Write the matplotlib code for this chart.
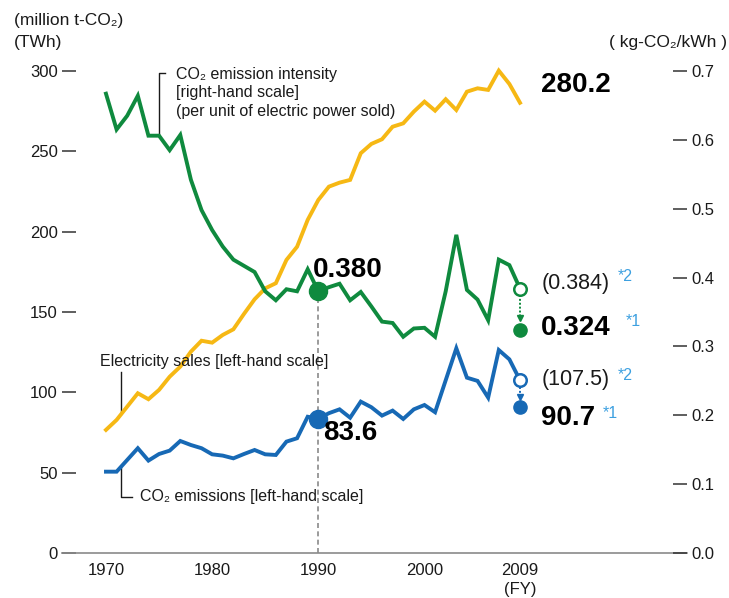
import numpy as np
import matplotlib.pyplot as plt
from matplotlib.ticker import FormatStrFormatter

plt.rcParams['font.family'] = ['Liberation Sans', 'DejaVu Sans']

# fiscal years
years = np.arange(1970, 2010)

# electricity sales (TWh, left scale)
sales = [76.6, 82.8, 91.1, 99.4, 95.7, 101.5, 109.7, 116.0, 125.3, 132.1,
         130.9, 135.7, 139.2, 148.8, 157.9, 164.7, 167.9, 182.4, 190.6, 207.3,
         219.7, 228.0, 230.5, 232.2, 248.8, 254.6, 257.5, 265.3, 267.4, 274.7,
         280.9, 275.3, 282.4, 275.7, 287.1, 289.2, 288.2, 300.2, 291.9, 280.2]

# CO2 emissions (million t-CO2, left scale)
co2 = [50.6, 50.6, 57.9, 65.2, 57.5, 61.6, 63.7, 69.7, 67.2, 65.2,
       61.4, 60.6, 58.9, 61.6, 64.1, 61.4, 61.0, 69.3, 71.4, 84.8,
       83.6, 87.0, 89.4, 84.2, 94.2, 90.7, 85.5, 88.6, 83.4, 89.4,
       92.1, 87.6, 107.5, 127.4, 109.1, 107.1, 96.7, 126.3, 120.5, 107.5]

# CO2 emission intensity (kg-CO2/kWh, right scale)
intensity = [0.667, 0.615, 0.635, 0.664, 0.606, 0.606, 0.585, 0.607, 0.542, 0.498,
             0.469, 0.445, 0.426, 0.417, 0.408, 0.380, 0.367, 0.383, 0.380, 0.412,
             0.380, 0.386, 0.391, 0.367, 0.379, 0.358, 0.336, 0.334, 0.314, 0.326,
             0.327, 0.314, 0.380, 0.462, 0.382, 0.368, 0.338, 0.426, 0.418, 0.384]

# 2009 values after reflecting credits (*1)
co2_2009_adj = 90.7
intensity_2009_adj = 0.324

xtick_years = [1970, 1980, 1990, 2000, 2009]
xtick_labels = ['1970', '1980', '1990', '2000', '2009\n(FY)']

GREEN = '#0f8a3e'
YELLOW = '#f6b814'
BLUE = '#1769b5'
STAR = '#3da0e0'
TXT = '#1a1a1a'

LEFT_MAX = 310
RIGHT_MAX = LEFT_MAX * 0.7 / 300
to_left = 300 / 0.7   # right-scale value -> left-scale value

fig = plt.figure(figsize=(7.29, 5.98), dpi=100)
ax = fig.add_axes([0.085, 0.0753, 0.8574, 0.8329])
ax2 = ax.twinx()

ax.set_xlim(1965.855, 2024.73)
ax.set_ylim(0, LEFT_MAX)
ax2.set_ylim(0, RIGHT_MAX)

for a in (ax, ax2):
    for s in ['top', 'left', 'right', 'bottom']:
        a.spines[s].set_visible(False)
ax.spines['bottom'].set_visible(True)
ax.spines['bottom'].set_color('#8a8a8a')
ax.spines['bottom'].set_linewidth(1.2)

ax.set_yticks(range(0, 301, 50))
ax.tick_params(axis='y', direction='in', length=10, width=1.1, color='#333333',
               pad=3, labelsize=12, labelcolor=TXT)
ax.set_xticks(xtick_years)
ax.set_xticklabels(xtick_labels)
ax.tick_params(axis='x', length=0, pad=7, labelsize=12, labelcolor=TXT)
for lab in ax.get_xticklabels():
    lab.set_linespacing(1.35)

ax2.set_yticks(np.arange(0, 0.71, 0.1))
ax2.yaxis.set_major_formatter(FormatStrFormatter('%.1f'))
ax2.tick_params(axis='y', direction='in', length=10, width=1.1, color='#333333',
                pad=3, labelsize=12, labelcolor=TXT)

# 1990 guide line
ax.plot([1990, 1990], [0, intensity[20] * to_left], ls=(0, (3, 2)),
        color='#8a8a8a', lw=1.2, zorder=1)

# series
ax.plot(years, sales, color=YELLOW, lw=2.8, solid_joinstyle='miter', zorder=3)
ax.plot(years, co2, color=BLUE, lw=2.8, solid_joinstyle='miter', zorder=3)
ax2.plot(years, intensity, color=GREEN, lw=2.8, solid_joinstyle='miter', zorder=3)

# 1990 markers
ax.plot(1990, co2[20], 'o', color=BLUE, ms=13, zorder=5)
ax2.plot(1990, intensity[20], 'o', color=GREEN, ms=13, zorder=5)

# 2009 markers: before (open) and after credits (filled)
ax.plot(2009, co2[-1], 'o', mfc='white', mec=BLUE, mew=1.8, ms=9, zorder=5)
ax.plot(2009, co2_2009_adj, 'o', color=BLUE, ms=9.5, zorder=5)
ax2.plot(2009, intensity[-1], 'o', mfc='white', mec=GREEN, mew=1.8, ms=9, zorder=5)
ax2.plot(2009, intensity_2009_adj, 'o', color=GREEN, ms=9.5, zorder=5)

# dotted arrows
ax.plot([2009, 2009], [co2[-1] - 4.2, co2_2009_adj + 7.0], ls=(0, (1, 1)), color=BLUE, lw=1.4)
ax.plot(2009, co2_2009_adj + 6.3, 'v', color=BLUE, ms=5)
ax2.plot([2009, 2009], [intensity[-1] - 0.010, intensity_2009_adj + 0.018], ls=(0, (1, 1)),
         color=GREEN, lw=1.4)
ax2.plot(2009, intensity_2009_adj + 0.017, 'v', color=GREEN, ms=5)

# value labels
ax.text(1989.5, 176.0, '%.3f' % intensity[20], fontsize=20, fontweight='bold',
        ha='left', va='center', color='black', zorder=6)
ax.text(1990.44, 74.7, '%.1f' % co2[20], fontsize=20, fontweight='bold',
        ha='left', va='center', color='black', zorder=6)
ax.text(2011.0, 291.3, '%.1f' % sales[-1], fontsize=20, fontweight='bold',
        ha='left', va='center', color='black')
ax.text(2011.0, 168.0, '(%.3f)' % intensity[-1], fontsize=15.5, ha='left', va='center', color=TXT)
ax.text(2011.0, 140.0, '%.3f' % intensity_2009_adj, fontsize=20, fontweight='bold',
        ha='left', va='center', color='black')
ax.text(2011.0, 107.7, '(%.1f)' % co2[-1], fontsize=15.5, ha='left', va='center', color=TXT)
ax.text(2011.0, 84.0, '%.1f' % co2_2009_adj, fontsize=20, fontweight='bold',
        ha='left', va='center', color='black')

ax.text(2018.2, 171.8, '*2', fontsize=11.5, color=STAR, ha='left', va='center')
ax.text(2019.0, 144.0, '*1', fontsize=11.5, color=STAR, ha='left', va='center')
ax.text(2018.2, 110.2, '*2', fontsize=11.5, color=STAR, ha='left', va='center')
ax.text(2016.8, 87.1, '*1', fontsize=11.5, color=STAR, ha='left', va='center')

# series annotations with leader lines
ax.text(1976.6, 286.5, 'CO\u2082 emission intensity\n[right-hand scale]\n(per unit of electric power sold)',
        fontsize=11.5, ha='left', va='center', linespacing=1.3, color=TXT)
ax.plot([1975.55, 1975.0, 1975.0], [299.0, 299.0, intensity[5] * to_left], color=TXT, lw=1)

ax.text(1969.43, 119.1, 'Electricity sales [left-hand scale]', fontsize=11.5,
        ha='left', va='center', color=TXT, zorder=6)
ax.plot([1971.41, 1971.41], [112.8, np.interp(1971.41, years, sales)], color=TXT, lw=1, zorder=2)

ax.text(1973.2, 35.0, 'CO\u2082 emissions [left-hand scale]', fontsize=11.5,
        ha='left', va='center', color=TXT)
ax.plot([1971.41, 1971.41, 1972.45], [np.interp(1971.41, years, co2), 35.0, 35.0],
        color=TXT, lw=1, zorder=2)

# unit labels
fig.text(14 / 729, 1 - 20 / 598, '(million t-CO\u2082)', fontsize=12.5, ha='left', va='center', color=TXT)
fig.text(14 / 729, 1 - 43 / 598, '(TWh)', fontsize=12.5, ha='left', va='center', color=TXT)
fig.text(727 / 729, 1 - 43 / 598, '( kg-CO\u2082/kWh )', fontsize=12.5, ha='right', va='center', color=TXT)

fig.savefig('out.png', dpi=100)
